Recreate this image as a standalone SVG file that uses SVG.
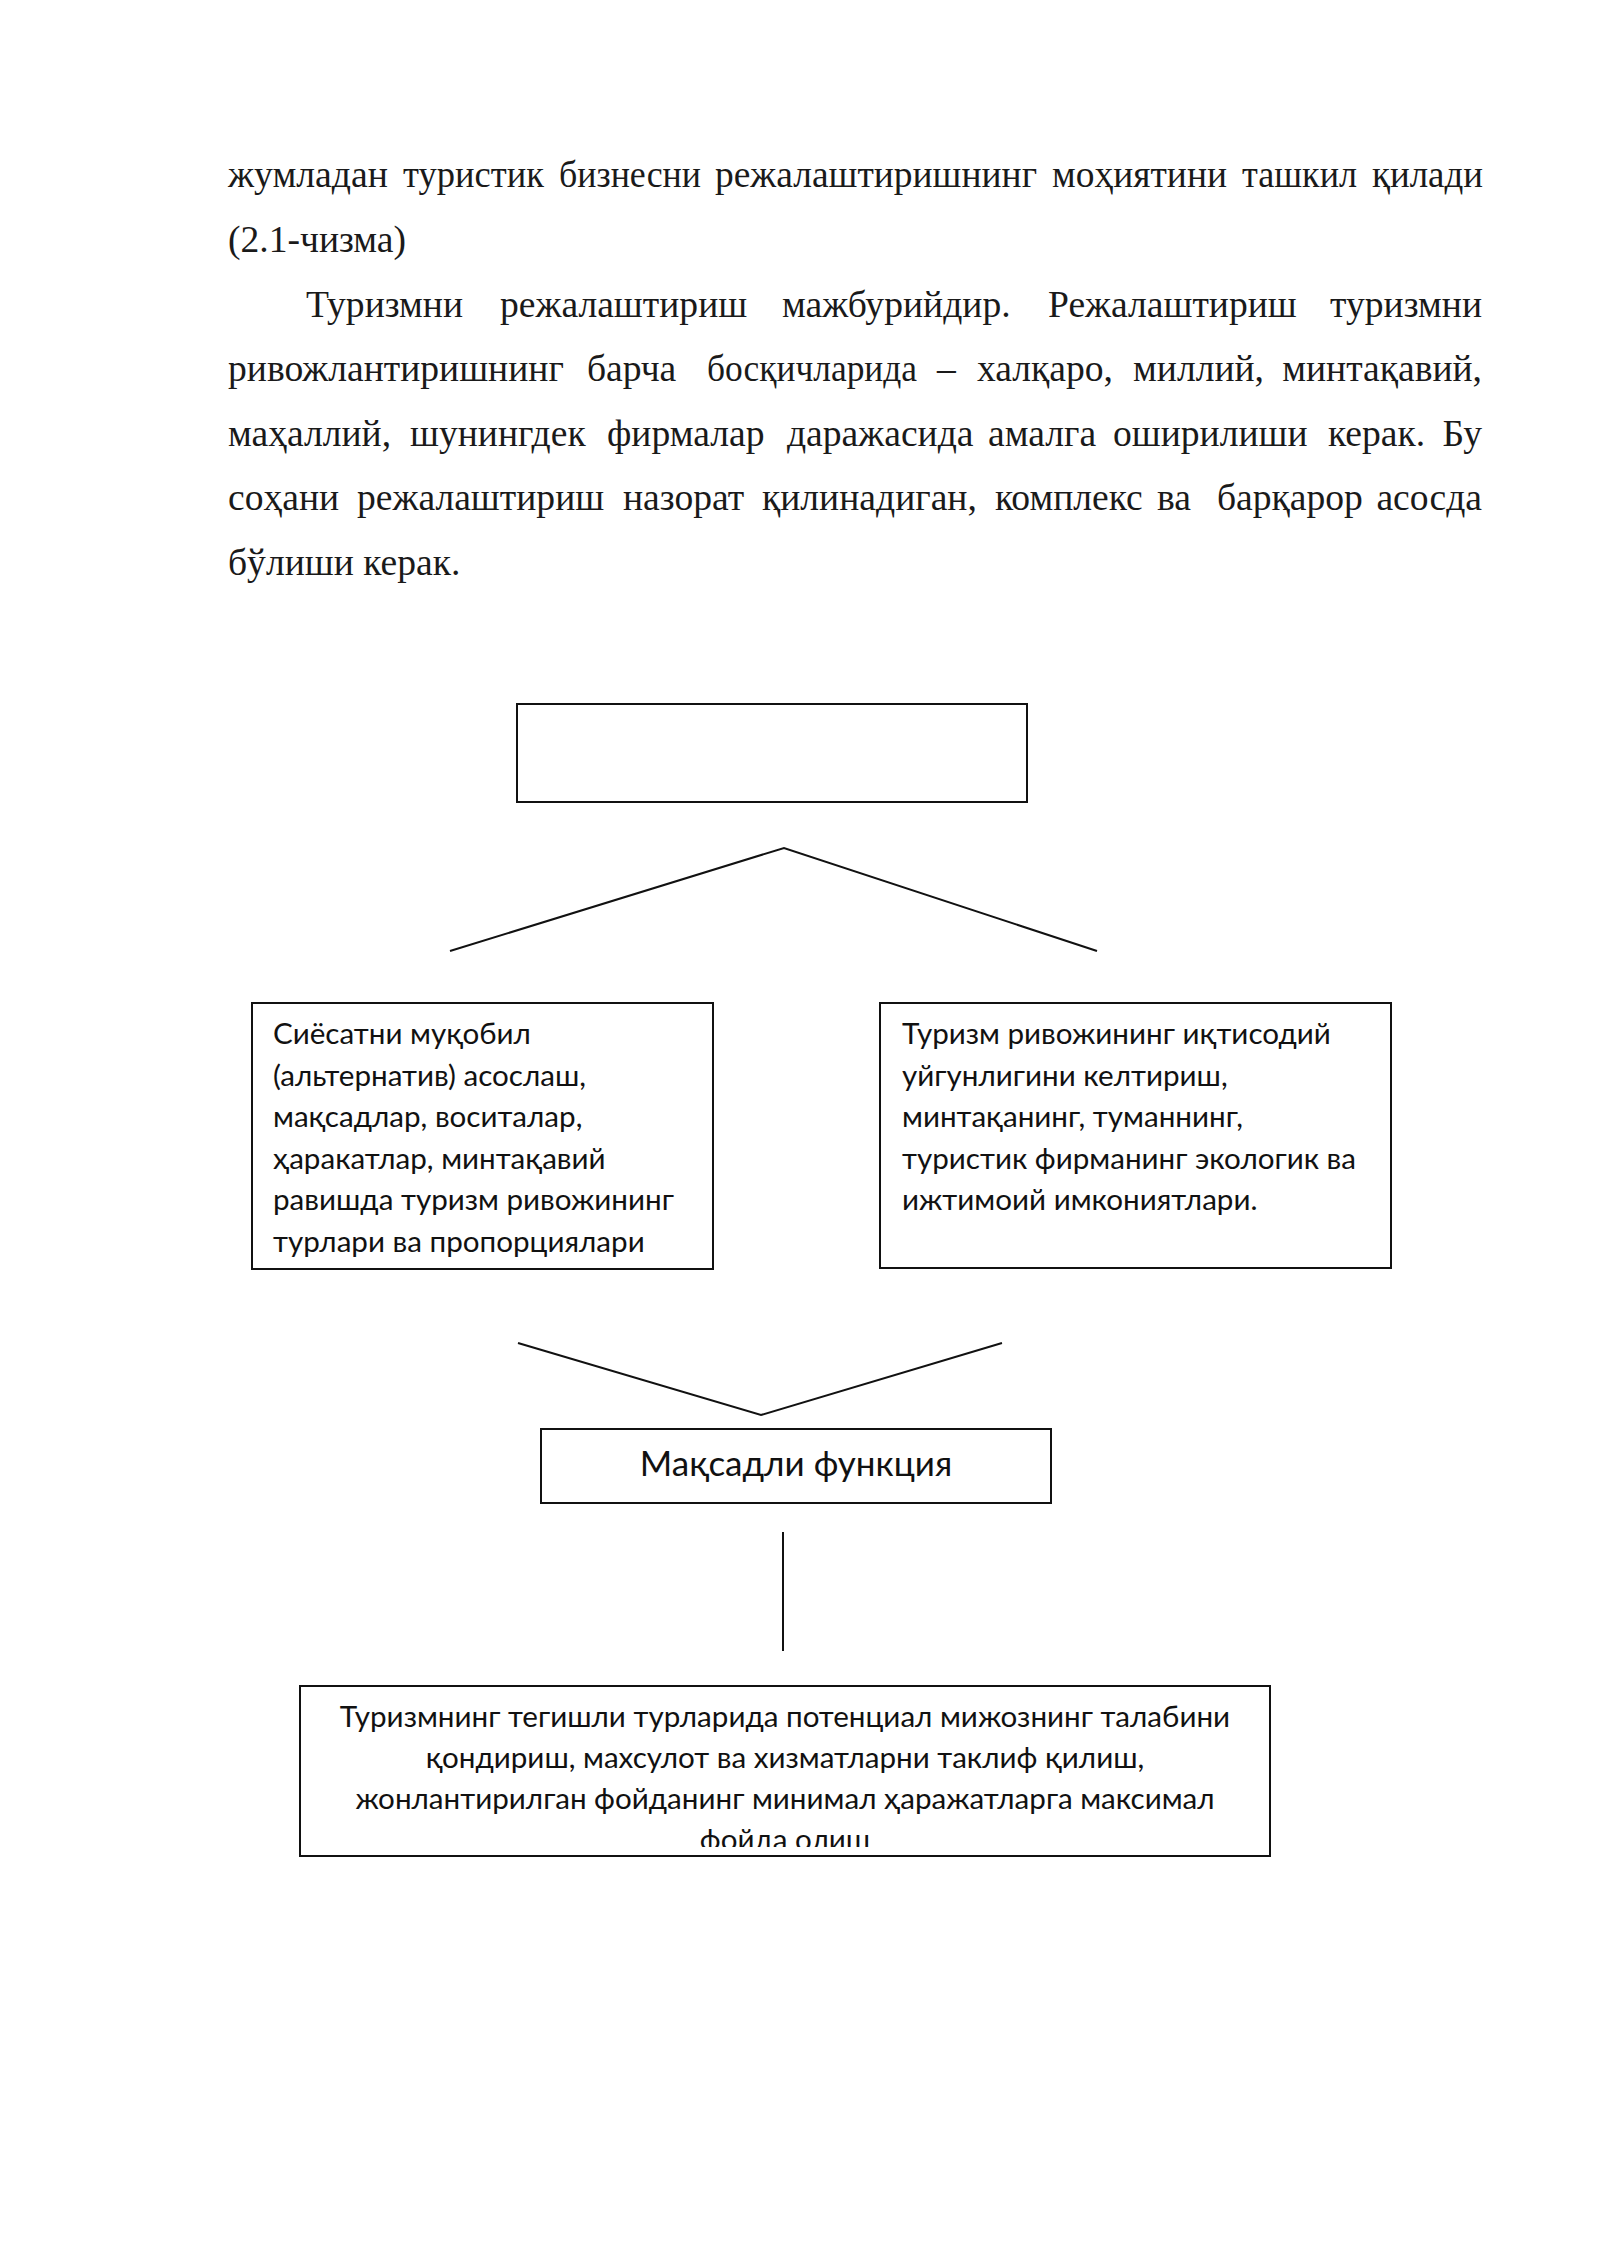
<svg xmlns="http://www.w3.org/2000/svg" width="1600" height="2262" viewBox="0 0 1600 2262">
<style>
.body{font-family:"Liberation Serif","Times New Roman",serif;font-size:37.6px;fill:#1a1a1a}
.box{fill:#fff;stroke:#111;stroke-width:2}
.lbl{font-family:Lato,"Noto Sans","Open Sans",sans-serif;font-size:29.6px;fill:#111}
.big{font-family:Lato,"Noto Sans","Open Sans",sans-serif;font-size:35px;fill:#111}
.con{stroke:#111;stroke-width:2;fill:none}
.end{text-anchor:end}
</style>
<defs>
<clipPath id="clipBottom"><rect x="301" y="1688" width="968" height="159"/></clipPath>
</defs>
<rect width="1600" height="2262" fill="#fff"/>
<g id="body-text" class="body">
<text x="228" y="187" textLength="160" lengthAdjust="spacingAndGlyphs">жумладан</text>
<text x="403" y="187" textLength="141" lengthAdjust="spacingAndGlyphs">туристик</text>
<text x="559" y="187" textLength="142" lengthAdjust="spacingAndGlyphs">бизнесни</text>
<text x="715" y="187" textLength="322" lengthAdjust="spacingAndGlyphs">режалаштиришнинг</text>
<text x="1052" y="187" textLength="175" lengthAdjust="spacingAndGlyphs">моҳиятини</text>
<text x="1242" y="187" textLength="115" lengthAdjust="spacingAndGlyphs">ташкил</text>
<text x="1372" y="187" textLength="111" lengthAdjust="spacingAndGlyphs">қилади</text>
<text x="228" y="252">(2.1-чизма)</text>
<text y="317"><tspan x="306">Туризмни</tspan><tspan x="500">режалаштириш</tspan><tspan x="782">мажбурийдир.</tspan><tspan x="1048">Режалаштириш</tspan></text>
<text class="body end" x="1482" y="317">туризмни</text>
<text y="381"><tspan x="228">ривожлантиришнинг</tspan><tspan x="587">барча</tspan></text>
<text x="707" y="381" textLength="210" lengthAdjust="spacingAndGlyphs">босқичларида</text>
<text y="381"><tspan x="937">–</tspan><tspan x="977">халқаро,</tspan><tspan x="1133">миллий,</tspan></text>
<text class="body end" x="1482" y="381">минтақавий,</text>
<text y="446"><tspan x="228">маҳаллий,</tspan><tspan x="410">шунингдек</tspan><tspan x="607">фирмалар</tspan><tspan x="787">даражасида</tspan><tspan x="988">амалга</tspan><tspan x="1113">оширилиши</tspan><tspan x="1328">керак.</tspan></text>
<text class="body end" x="1482" y="446">Бу</text>
<text y="510"><tspan x="228">соҳани</tspan><tspan x="357">режалаштириш</tspan><tspan x="623">назорат</tspan><tspan x="762">қилинадиган,</tspan><tspan x="995">комплекс</tspan><tspan x="1157">ва</tspan><tspan x="1217">барқарор</tspan></text>
<text class="body end" x="1482" y="510">асосда</text>
<text x="228" y="575">бўлиши керак.</text>
</g>
<g id="connectors">
<polyline class="con" points="450,951 784,848 1097,951"/>
<polyline class="con" points="518,1343 761,1415 1002,1343"/>
<line class="con" x1="783" y1="1532" x2="783" y2="1651" stroke-width="1.6"/>
</g>
<g id="node-top">
<rect class="box" x="517" y="704" width="510" height="98"/>
</g>
<g id="node-left">
<rect class="box" x="252" y="1003" width="461" height="266"/>
<text class="lbl" x="273" y="1044">Сиёсатни муқобил</text>
<text class="lbl" x="273" y="1085.5">(альтернатив) асослаш,</text>
<text class="lbl" x="273" y="1127">мақсадлар, воситалар,</text>
<text class="lbl" x="273" y="1168.5">ҳаракатлар, минтақавий</text>
<text class="lbl" x="273" y="1210">равишда туризм ривожининг</text>
<text class="lbl" x="273" y="1251.5">турлари ва пропорциялари</text>
</g>
<g id="node-right">
<rect class="box" x="880" y="1003" width="511" height="265"/>
<text class="lbl" x="902" y="1044">Туризм ривожининг иқтисодий</text>
<text class="lbl" x="902" y="1085.5">уйгунлигини келтириш,</text>
<text class="lbl" x="902" y="1127">минтақанинг, туманнинг,</text>
<text class="lbl" x="902" y="1168.5">туристик фирманинг экологик ва</text>
<text class="lbl" x="902" y="1210">ижтимоий имкониятлари.</text>
</g>
<g id="node-goal">
<rect class="box" x="541" y="1429" width="510" height="74"/>
<text class="big" x="796" y="1476" text-anchor="middle">Мақсадли функция</text>
</g>
<g id="node-bottom">
<rect class="box" x="300" y="1686" width="970" height="170"/>
<g clip-path="url(#clipBottom)" text-anchor="middle">
<text class="lbl" x="785" y="1727">Туризмнинг тегишли турларида потенциал мижознинг талабини</text>
<text class="lbl" x="785" y="1768">қондириш, махсулот ва хизматларни таклиф қилиш,</text>
<text class="lbl" x="785" y="1809">жонлантирилган фойданинг минимал ҳаражатларга максимал</text>
<text class="lbl" x="785" y="1850">фойда олиш</text>
</g>
</g>
</svg>
